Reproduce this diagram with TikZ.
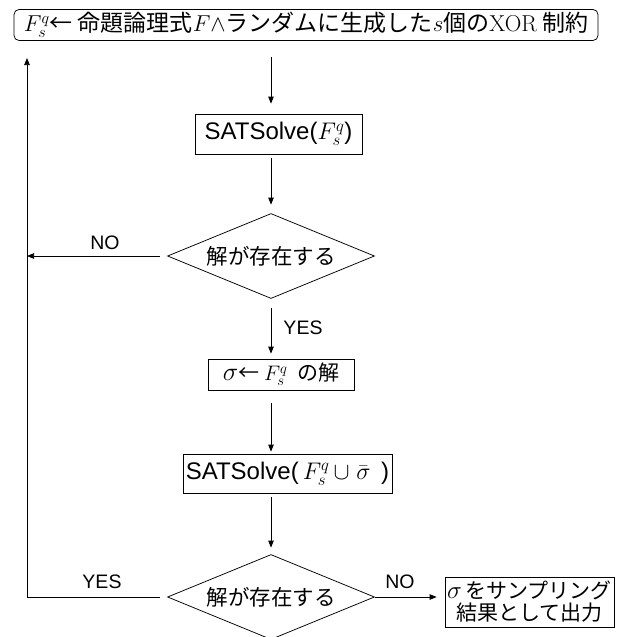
\RequirePackage{fix-cm}
\documentclass[tikz,border=0pt]{standalone}
\usepackage{fontspec}
\usetikzlibrary{shapes.geometric,arrows.meta}
\newfontfamily\cjk{Noto Sans CJK JP}
\newfontfamily\arial{Liberation Sans}
\begin{document}
\begin{tikzpicture}[x=1pt,y=-1pt,
  line width=0.75pt,
  arr/.style={-{Triangle[length=7pt,width=5.5pt]}},
  box/.style={draw, rectangle, inner sep=0pt, align=center},
  dec/.style={draw, diamond, aspect=2.435, inner sep=0pt, minimum width=207pt, minimum height=85pt,
    font=\cjk\fontsize{21.5}{24}\selectfont},
  lab/.style={font=\arial\fontsize{19.5}{22}\selectfont, inner sep=0pt}]
\useasboundingbox (0,0) rectangle (619,637);

\node[box, rounded corners=5pt, minimum width=584pt, minimum height=31pt,
  font=\cjk\fontsize{23}{26}\selectfont] (top) at (306,25)
  {$F_s^q$←\ 命題論理式$F\wedge$ランダムに生成した$s$個の{\rmfamily XOR}\ 制約};

\node[box, minimum width=167pt, minimum height=40pt, font=\arial\fontsize{24}{28}\selectfont]
  (sat1) at (278.5,134) {SATSolve($F_s^q$)};

\node[dec] (d1) at (271,256) {解が存在する};

\node[box, minimum width=146pt, minimum height=31pt, font=\cjk\fontsize{21}{24}\selectfont]
  (sig) at (281,374.5) {{\fontsize{26}{28}\selectfont$\sigma$}←\ $F_s^q$\ \ の解};

\node[box, minimum width=209pt, minimum height=39pt, font=\arial\fontsize{24}{28}\selectfont]
  (sat2) at (287.5,473.5) {SATSolve(\,$F_s^q\,{\cup}\;\bar{\sigma}$\, )};

\node[dec] (d2) at (271,597) {解が存在する};

\node[box, minimum width=169pt, minimum height=50pt, font=\cjk\fontsize{21}{22}\selectfont]
  (out) at (529.5,602) {{\fontsize{25}{25}\selectfont$\sigma$}\,をサンプリング\\結果として出力};

\node[lab] (no1) at (105,243) {NO};
\node[lab] (yes1) at (303,328) {YES};
\node[lab] (yes2) at (102,582) {YES};
\node[lab] (no2) at (400,582) {NO};

\coordinate (loopx) at (27,58);

\draw[arr, shorten <=16.5pt, shorten >=10pt] (top.south -| d1.north) -- (sat1.north -| d1.north);
\draw[arr, shorten <=4pt, shorten >=8.5pt] (sat1.south -| d1.north) -- (d1.north);
\draw[arr, shorten <=9.5pt, shorten >=5pt] (d1.south) -- (sig.north -| d1.south);
\draw[arr, shorten <=13pt, shorten >=2pt] (sig.south -| d1.south) -- (sat2.north -| d1.south);
\draw[arr, shorten <=4pt, shorten >=6.5pt] (sat2.south -| d2.north) -- (d2.north);
\draw[arr, shorten <=7pt] (d1.west) -- (d1.west -| loopx);
\draw[arr, shorten <=7pt] (d2.west) -| (loopx);
\draw[arr, shorten >=8pt] (d2.east) -- (d2.east -| out.west);
\end{tikzpicture}
\end{document}
